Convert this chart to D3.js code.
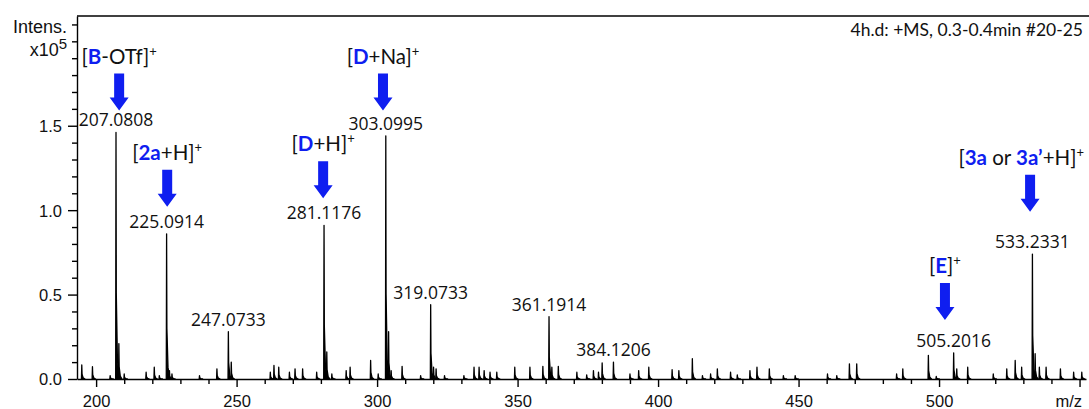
<!DOCTYPE html>
<html lang="en">
<head>
<meta charset="UTF-8">
<title>+MS spectrum</title>
<script src="https://cdn.jsdelivr.net/npm/d3@7"></script>
<style>
  body { margin: 0; background: #fff; }
  svg { display: block; font-family: 'Liberation Sans', Arial, sans-serif; }
  .axis text { font-size: 16.5px; fill: #111; font-family: 'Liberation Sans', Arial, sans-serif; }
  .axis path, .axis line { stroke: #000; stroke-width: 1.4; }
  .peak { fill: #000; stroke: #000; stroke-width: 1.3; stroke-linejoin: round; }
  .peak-label { font-family: 'Open Sans'; font-size: 17.5px; fill: #111; text-anchor: middle; }
  .ann { font-family: Lato; font-size: 20.5px; fill: #111; }
  .ann .hl { fill: #0f1ef0; font-weight: bold; }
  .arrow { fill: #0f1ef0; }
</style>
</head>
<body>
<svg id="chart" width="1089" height="409"></svg>
<script>
// peak list (m/z, intensity in units of 1e5)
var peakMz = [194.9, 198.7, 205.0, 207.08, 208.1, 210.0, 217.8, 220.7, 222.5, 225.09,
  226.1, 227.0, 236.8, 243.0, 247.07, 248.1, 262.0, 263.3, 265.0, 268.8,
  270.8, 273.5, 278.5, 281.12, 282.1, 283.9, 289.0, 290.4, 297.7, 300.4,
  303.10, 304.1, 305.0, 308.9, 315.5, 319.07, 320.1, 321.0, 324.0, 330.9,
  334.5, 336.3, 338.1, 340.2, 342.6, 349.0, 354.4, 359.0, 361.19, 362.2,
  364.5, 371.1, 374.6, 377.0, 378.8, 380.1, 384.12, 390.0, 393.1, 396.7,
  405.0, 407.4, 412.2, 415.8, 418.7, 421.1, 425.8, 428.2, 432.7, 435.2,
  439.6, 444.6, 448.8, 460.3, 463.6, 468.1, 470.7, 484.9, 487.1, 496.2,
  499.0, 505.20, 506.3, 510.2, 519.3, 524.1, 527.1, 529.4, 533.23, 534.2,
  535.7, 538.1, 543.2, 547.9, 550.8];
var peakInt = [0.083, 0.073, 0.02, 1.46, 0.21, 0.03, 0.04, 0.07, 0.02, 0.86,
  0.05, 0.03, 0.02, 0.06, 0.28, 0.1, 0.04, 0.08, 0.07, 0.04,
  0.06, 0.06, 0.04, 0.91, 0.16, 0.03, 0.05, 0.07, 0.11, 0.03,
  1.44, 0.28, 0.05, 0.075, 0.02, 0.44, 0.07, 0.06, 0.02, 0.02,
  0.07, 0.07, 0.05, 0.04, 0.04, 0.07, 0.07, 0.075, 0.37, 0.07,
  0.075, 0.04, 0.025, 0.05, 0.04, 0.095, 0.1, 0.03, 0.05, 0.07,
  0.055, 0.05, 0.12, 0.02, 0.03, 0.06, 0.04, 0.025, 0.05, 0.07,
  0.06, 0.02, 0.02, 0.03, 0.02, 0.09, 0.09, 0.03, 0.06, 0.14,
  0.015, 0.155, 0.06, 0.07, 0.03, 0.06, 0.11, 0.07, 0.74, 0.15,
  0.07, 0.07, 0.06, 0.04, 0.04];

var labelText = ["207.0808", "225.0914", "247.0733", "281.1176", "303.0995",
  "319.0733", "361.1914", "384.1206", "505.2016", "533.2331"];

// annotations: text pieces ("b" = blue bold, "s" = superscript), arrow m/z, arrow tip level
var annParts = [
  [["[", ""], ["B", "b"], ["-OTf]", ""], ["+", "s"]],
  [["[", ""], ["2a", "b"], ["+H]", ""], ["+", "s"]],
  [["[", ""], ["D", "b"], ["+H]", ""], ["+", "s"]],
  [["[", ""], ["D", "b"], ["+Na]", ""], ["+", "s"]],
  [["[", ""], ["E", "b"], ["]", ""], ["+", "s"]],
  [["[", ""], ["3a", "b"], [" or ", ""], ["3a\u2019", "b"], ["+H]", ""], ["+", "s"]]
];
var annMz = [208.2, 225.3, 280.8, 302.1, 502.1, 532.4];
var annTip = [1.59, 1.02, 1.07, 1.59, 0.35, 0.99];

var yTicks = d3.range(0, 22).map(function (i) { return i / 10; });
var yMajor = [0, 0.5, 1.0, 1.5];
var xTicks = d3.range(200, 551, 10);
var xMajor = [200, 250, 300, 350, 400, 450, 500];

var svg = d3.select("#chart");
var W = 1089, plotL = 77, plotR = 1086, plotT = 16, plotB = 379;

var x = d3.scaleLinear().domain([193.2, 552.3]).range([plotL, plotR]);
var y = d3.scaleLinear().domain([0, 2.15]).range([plotB, plotT]);

// frame line across the top
svg.append("line")
  .attr("x1", plotL).attr("x2", W)
  .attr("y1", plotT).attr("y2", plotT)
  .attr("stroke", "#000").attr("stroke-width", 1.4);

// peaks
svg.append("clipPath").attr("id", "plotclip")
  .append("rect").attr("x", plotL).attr("y", plotT)
  .attr("width", plotR - plotL).attr("height", plotB - plotT);

var area = d3.area()
  .x(function (d) { return x(d[0]); })
  .y0(y(0))
  .y1(function (d) { return y(d[1]); });

function peakShape(mz, h) {
  return [[mz - 0.12, 0], [mz, h], [mz + 0.1, h * 0.35], [mz + 0.5, h * 0.08], [mz + 1.1, 0]];
}

svg.append("g").attr("clip-path", "url(#plotclip)")
  .selectAll("path.peak")
  .data(peakMz.map(function (m, i) { return peakShape(m, peakInt[i]); }))
  .enter().append("path")
  .attr("class", "peak")
  .attr("d", area);

// axes
var xAxis = svg.append("g").attr("class", "axis")
  .attr("transform", "translate(0," + plotB + ")")
  .call(d3.axisBottom(x).tickValues(xTicks).tickSizeOuter(0)
    .tickFormat(function (d) { return xMajor.indexOf(d) >= 0 ? d : ""; }));
xAxis.selectAll(".tick line")
  .attr("y2", function (d) { return d % 50 === 0 ? 8 : 5; });
xAxis.selectAll(".tick text").attr("y", 28).attr("dy", 0);

svg.append("text")
  .attr("x", 1082).attr("y", 407)
  .attr("text-anchor", "end")
  .style("font-size", "16.5px").attr("fill", "#111")
  .text("m/z");

var yAxis = svg.append("g").attr("class", "axis")
  .attr("transform", "translate(" + plotL + ",0)")
  .call(d3.axisLeft(y).tickValues(yTicks).tickSizeOuter(0)
    .tickFormat(function (d) { return yMajor.indexOf(d) >= 0 ? d3.format(".1f")(d) : ""; }));
yAxis.selectAll(".tick line")
  .attr("x2", function (d) { return yMajor.indexOf(d) >= 0 ? -9 : -5; });
yAxis.selectAll(".tick text").attr("x", -15).attr("dy", "0.36em");

svg.append("text")
  .attr("x", 67).attr("y", 33)
  .attr("text-anchor", "end")
  .style("font-size", "18px").attr("fill", "#111")
  .text("Intens.");
var xten = svg.append("text")
  .attr("x", 67).attr("y", 56)
  .attr("text-anchor", "end")
  .style("font-size", "18px").attr("fill", "#111")
  .text("x10");
xten.append("tspan").attr("dy", -7).style("font-size", "15px").text("5");

// header text
svg.append("text")
  .attr("x", 1083).attr("y", 36)
  .attr("text-anchor", "end")
  .style("font-family", "Lato").style("font-size", "17.5px").attr("fill", "#111")
  .text("4h.d: +MS, 0.3-0.4min #20-25");

// peak labels
function nearestPeak(v) {
  var best = 0;
  peakMz.forEach(function (m, i) {
    if (Math.abs(m - v) < Math.abs(peakMz[best] - v)) best = i;
  });
  return best;
}

svg.selectAll("text.peak-label")
  .data(labelText)
  .enter().append("text")
  .attr("class", "peak-label")
  .attr("x", function (d) { return x(+d); })
  .attr("y", function (d) { return y(peakInt[nearestPeak(+d)]) - 6; })
  .text(function (d) { return d; });

// annotation arrows and labels
function arrowPath(cx, ty) {
  return "M" + (cx - 5) + "," + (ty - 37) + "H" + (cx + 5) + "V" + (ty - 13) +
    "H" + (cx + 9.5) + "L" + cx + "," + ty + "L" + (cx - 9.5) + "," + (ty - 13) +
    "H" + (cx - 5) + "Z";
}

annParts.forEach(function (parts, i) {
  var cx = x(annMz[i]), ty = y(annTip[i]);
  svg.append("path").attr("class", "arrow").attr("d", arrowPath(cx, ty));

  var t = svg.append("text").attr("class", "ann")
    .attr("x", cx).attr("y", ty - 47).attr("text-anchor", "middle");
  parts.forEach(function (p) {
    var s = t.append("tspan").text(p[0]);
    if (p[1] === "b") s.attr("class", "hl");
    if (p[1] === "s") s.attr("dy", -8).style("font-size", "13px");
  });
  var bb = t.node().getBBox();
  if (bb.x + bb.width > W - 5) t.attr("x", cx - (bb.x + bb.width - (W - 5)));
});
</script>
</body>
</html>
